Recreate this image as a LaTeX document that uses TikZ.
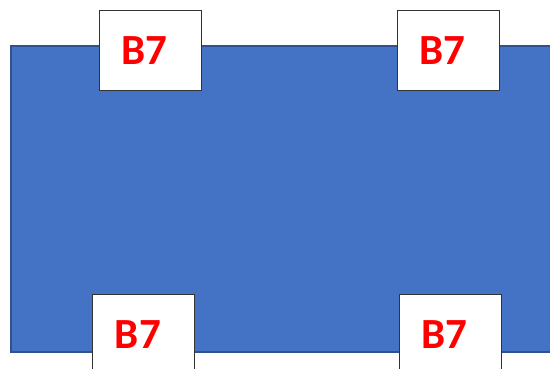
\documentclass[tikz,border=0pt]{standalone}
\usepackage{fontspec}
\setmainfont{Carlito}
\definecolor{platefill}{RGB}{68,114,196}
\definecolor{plateedge}{RGB}{47,82,143}
\definecolor{tagred}{RGB}{255,0,0}
\tikzset{
  plate/.style={fill=platefill,draw=plateedge,line width=1.5pt},
  tagbox/.style={draw=black!80,fill=white,line width=0.9pt,minimum width=102pt,minimum height=80pt,inner sep=0pt,
    font=\fontsize{43}{43}\selectfont\bfseries,text=tagred},
}
\begin{document}
\begin{tikzpicture}[x=1pt,y=-1pt,line join=miter]
\useasboundingbox (0,0) rectangle (550,369);
\clip (0,0) rectangle (550,369);
\path[plate] (11,46) rectangle (560,352);
\node[tagbox] (tl) at (150.8,50.5) {B7\hspace*{12pt}};
\node[tagbox] (tr) at (448.3,50.5) {B7\hspace*{12pt}};
\node[tagbox] (bl) at (143.9,334.7) {B7\hspace*{12pt}};
\node[tagbox] (br) at (450.0,334.7) {B7\hspace*{12pt}};
\end{tikzpicture}
\end{document}
